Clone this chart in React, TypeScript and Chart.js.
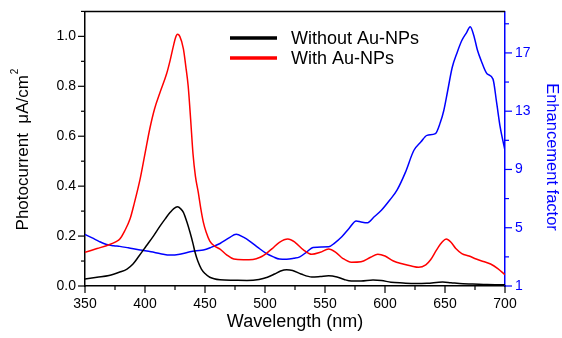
import React, { useEffect, useRef } from "react";
import { Chart, registerables } from "chart.js";

Chart.register(...registerables);

// Wavelength grids (nm)
const wlPhoto = [350, 360, 370, 379, 385, 390, 395, 401, 407, 412.5, 417, 421, 424, 427, 430, 432, 435, 437.5, 440, 441.7, 444, 447, 450, 454, 462.5, 474, 485, 495, 502, 508, 513, 518, 523, 530, 539, 546, 553, 560, 566, 572, 580, 590, 597, 605, 615, 625, 635, 648, 655, 665, 673, 685, 700];
const withoutAuNPs = [0.028, 0.035, 0.042, 0.056, 0.068, 0.088, 0.12, 0.16, 0.2, 0.24, 0.27, 0.295, 0.31, 0.317, 0.308, 0.295, 0.255, 0.215, 0.17, 0.135, 0.1, 0.068, 0.05, 0.035, 0.025, 0.023, 0.022, 0.026, 0.035, 0.048, 0.06, 0.065, 0.062, 0.048, 0.036, 0.038, 0.041, 0.036, 0.026, 0.02, 0.02, 0.024, 0.022, 0.015, 0.012, 0.01, 0.011, 0.016, 0.013, 0.009, 0.008, 0.006, 0.005];

const wlWith = [350, 360, 370, 376, 379, 383, 387.5, 391, 396, 400, 404, 408, 412.5, 418, 421, 423.6, 425.5, 427, 429, 432, 434, 436, 438, 440, 442, 444.4, 446.5, 448.6, 451, 454, 458, 462.5, 468, 474, 482, 490, 496, 501, 506, 512, 519, 525, 532, 539, 546, 553, 559, 565, 572, 580, 588, 594, 600, 607, 615, 622, 628, 634, 638, 643, 648, 651, 655, 659, 664, 670, 676, 682, 688, 694, 700];
const withAuNPs = [0.135, 0.15, 0.165, 0.178, 0.188, 0.22, 0.268, 0.33, 0.43, 0.53, 0.63, 0.71, 0.775, 0.85, 0.905, 0.96, 0.995, 1.008, 1.0, 0.95, 0.88, 0.8, 0.67, 0.53, 0.44, 0.375, 0.31, 0.256, 0.215, 0.18, 0.16, 0.148, 0.125, 0.108, 0.105, 0.106, 0.115, 0.13, 0.15, 0.175, 0.188, 0.175, 0.145, 0.127, 0.135, 0.148, 0.135, 0.11, 0.095, 0.097, 0.115, 0.127, 0.12, 0.1, 0.088, 0.08, 0.075, 0.085, 0.105, 0.145, 0.178, 0.188, 0.175, 0.15, 0.13, 0.12, 0.108, 0.098, 0.088, 0.07, 0.045];

const wlEnh = [350, 356, 362, 368, 374, 379, 386, 396, 405, 413, 421, 429, 437.5, 443, 448.6, 455, 462.5, 470, 476, 482, 488, 494, 501, 507, 512, 518, 524, 529, 535, 540, 547, 553, 558, 564, 570, 576, 580, 585, 591, 597, 604, 610, 617, 624, 630, 635, 642, 646, 649, 652, 656, 660, 664, 668, 671, 674, 677, 680, 685, 690, 693, 696, 700];
const enhancement = [4.54, 4.3, 4.05, 3.85, 3.76, 3.72, 3.62, 3.47, 3.35, 3.22, 3.12, 3.18, 3.35, 3.42, 3.47, 3.65, 3.92, 4.3, 4.56, 4.35, 4.03, 3.65, 3.24, 3.0, 2.85, 2.83, 2.9, 3.0, 3.35, 3.65, 3.68, 3.69, 3.95, 4.38, 4.95, 5.47, 5.4, 5.34, 5.75, 6.2, 6.9, 7.58, 8.8, 10.3, 10.9, 11.34, 11.46, 12.2, 13.05, 14.3, 16.0, 17.0, 17.85, 18.4, 18.8, 18.2, 17.2, 16.5, 15.57, 15.2, 13.6, 11.9, 10.3];

const seriesLabels = ["Without Au-NPs", "With Au-NPs", "Enhancement factor"];
const y1TickValues = [1, 3, 5, 7, 9, 11, 13, 15, 17, 19];
const xTitle = "Wavelength (nm)";
const yTitle = "Photocurrent  \u03BCA/cm";
const y1Title = "Enhancement factor";

const FONT = "'Liberation Sans', Arial, sans-serif";

const toXY = (xs: number[], ys: number[]) => xs.map((x, i) => ({ x, y: ys[i] }));

const isMult = (v: number, s: number) => Math.abs(v / s - Math.round(v / s)) < 1e-6;

const decorPlugin = {
  id: "decor",
  afterDraw(chart: any) {
    const { ctx, chartArea, scales } = chart;
    const { left, right, top, bottom } = chartArea;
    ctx.save();
    // top frame
    ctx.strokeStyle = "#000";
    ctx.lineWidth = 1.5;
    ctx.beginPath();
    ctx.moveTo(left, top);
    ctx.lineTo(right, top);
    ctx.stroke();

    // ticks
    const drawTicks = (scale: any, dir: string, color: string, majorStep: number, offset: number) => {
      ctx.strokeStyle = color;
      ctx.lineWidth = 1.2;
      scale.ticks.forEach((t: any) => {
        const v = t.value;
        const major = isMult(v - offset, majorStep);
        const len = major ? 7 : 4;
        const p = scale.getPixelForValue(v);
        ctx.beginPath();
        if (dir === "down") {
          ctx.moveTo(p, bottom);
          ctx.lineTo(p, bottom + len);
        } else if (dir === "left") {
          ctx.moveTo(left, p);
          ctx.lineTo(left - len, p);
        } else {
          ctx.moveTo(right, p);
          ctx.lineTo(right + len, p);
        }
        ctx.stroke();
      });
    };
    drawTicks(scales.x, "down", "#000", 50, 0);
    drawTicks(scales.y, "left", "#000", 0.2, 0);
    drawTicks(scales.y1, "right", "#0000ff", 4, 1);

    // legend
    const ds = chart.data.datasets;
    ctx.font = `18px ${FONT}`;
    ctx.textBaseline = "middle";
    ctx.textAlign = "left";
    [0, 1].forEach((i) => {
      const y = 38 + i * 20;
      ctx.strokeStyle = ds[i].borderColor;
      ctx.lineWidth = 3.5;
      ctx.beginPath();
      ctx.moveTo(230, y);
      ctx.lineTo(277, y);
      ctx.stroke();
      ctx.fillStyle = "#000";
      ctx.fillText(ds[i].label, 291, y + 1);
    });

    // axis titles
    ctx.fillStyle = "#000";
    ctx.textAlign = "center";
    ctx.font = `18px ${FONT}`;
    ctx.fillText(xTitle, 295, 322);

    ctx.save();
    ctx.translate(23, 150);
    ctx.rotate(-Math.PI / 2);
    ctx.font = `17px ${FONT}`;
    const w1 = ctx.measureText(yTitle).width;
    ctx.font = `10px ${FONT}`;
    const w2 = ctx.measureText("2").width;
    const start = -(w1 + w2) / 2;
    ctx.textAlign = "left";
    ctx.font = `17px ${FONT}`;
    ctx.fillText(yTitle, start, 0);
    ctx.font = `10px ${FONT}`;
    ctx.fillText("2", start + w1 + 1, -8);
    ctx.restore();

    ctx.save();
    ctx.translate(552, 157);
    ctx.rotate(Math.PI / 2);
    ctx.fillStyle = "#0000ff";
    ctx.textAlign = "center";
    ctx.font = `16.5px ${FONT}`;
    ctx.fillText(y1Title, 0, 0);
    ctx.restore();

    ctx.restore();
  },
};

export default function App() {
  const ref = useRef<HTMLCanvasElement | null>(null);
  useEffect(() => {
    if (!ref.current) return;
    const chart = new Chart(ref.current, {
      type: "line",
      data: {
        datasets: [
          { label: seriesLabels[0], data: toXY(wlPhoto, withoutAuNPs), borderColor: "#000000", yAxisID: "y" },
          { label: seriesLabels[1], data: toXY(wlWith, withAuNPs), borderColor: "#ff0000", yAxisID: "y" },
          { label: seriesLabels[2], data: toXY(wlEnh, enhancement), borderColor: "#0000ff", yAxisID: "y1" },
        ],
      },
      options: {
        responsive: false,
        animation: false,
        layout: { padding: { top: 11, left: 0, right: 0, bottom: 0 } },
        elements: {
          point: { radius: 0 },
          line: { borderWidth: 1.5, cubicInterpolationMode: "monotone", fill: false },
        },
        plugins: { legend: { display: false }, tooltip: { enabled: false } },
        scales: {
          x: {
            type: "linear",
            min: 350,
            max: 700,
            afterFit: (s: any) => { s.height = 52; },
            grid: { display: true, drawOnChartArea: false, drawTicks: true, tickLength: 7, tickColor: "rgba(0,0,0,0)" },
            border: { display: true, color: "#000", width: 1.5 },
            ticks: {
              stepSize: 25,
              includeBounds: false,
              autoSkip: false,
              maxRotation: 0,
              padding: 3,
              color: "#000",
              font: { family: FONT, size: 14 },
              callback: (v: any) => (isMult(Number(v), 50) ? String(v) : ""),
            },
          },
          y: {
            type: "linear",
            position: "left",
            min: 0,
            max: 1.1,
            afterFit: (s: any) => { s.width = 85; },
            grid: { display: true, drawOnChartArea: false, drawTicks: true, tickLength: 7, tickColor: "rgba(0,0,0,0)" },
            border: { display: true, color: "#000", width: 1.5 },
            ticks: {
              stepSize: 0.1,
              includeBounds: false,
              autoSkip: false,
              padding: 2,
              color: "#000",
              font: { family: FONT, size: 14 },
              callback: (v: any) => (isMult(Number(v), 0.2) ? Number(v).toFixed(1) : ""),
            },
          },
          y1: {
            type: "linear",
            position: "right",
            min: 1,
            max: 19.85,
            afterFit: (s: any) => { s.width = 57; },
            afterBuildTicks: (s: any) => { s.ticks = y1TickValues.map((v) => ({ value: v })); },
            grid: { display: true, drawOnChartArea: false, drawTicks: true, tickLength: 7, tickColor: "rgba(0,0,0,0)" },
            border: { display: true, color: "#0000ff", width: 1.5 },
            ticks: {
              autoSkip: false,
              padding: 3,
              color: "#0000ff",
              font: { family: FONT, size: 14 },
              callback: (v: any) => (isMult(Number(v) - 1, 4) ? String(v) : ""),
            },
          },
        },
      },
      plugins: [decorPlugin],
    } as any);
    return () => chart.destroy();
  }, []);
  return (
    <div style={{ position: "absolute", left: 0, top: 0, width: 562, height: 338, background: "#fff" }}>
      <canvas ref={ref} width={562} height={338} />
    </div>
  );
}
